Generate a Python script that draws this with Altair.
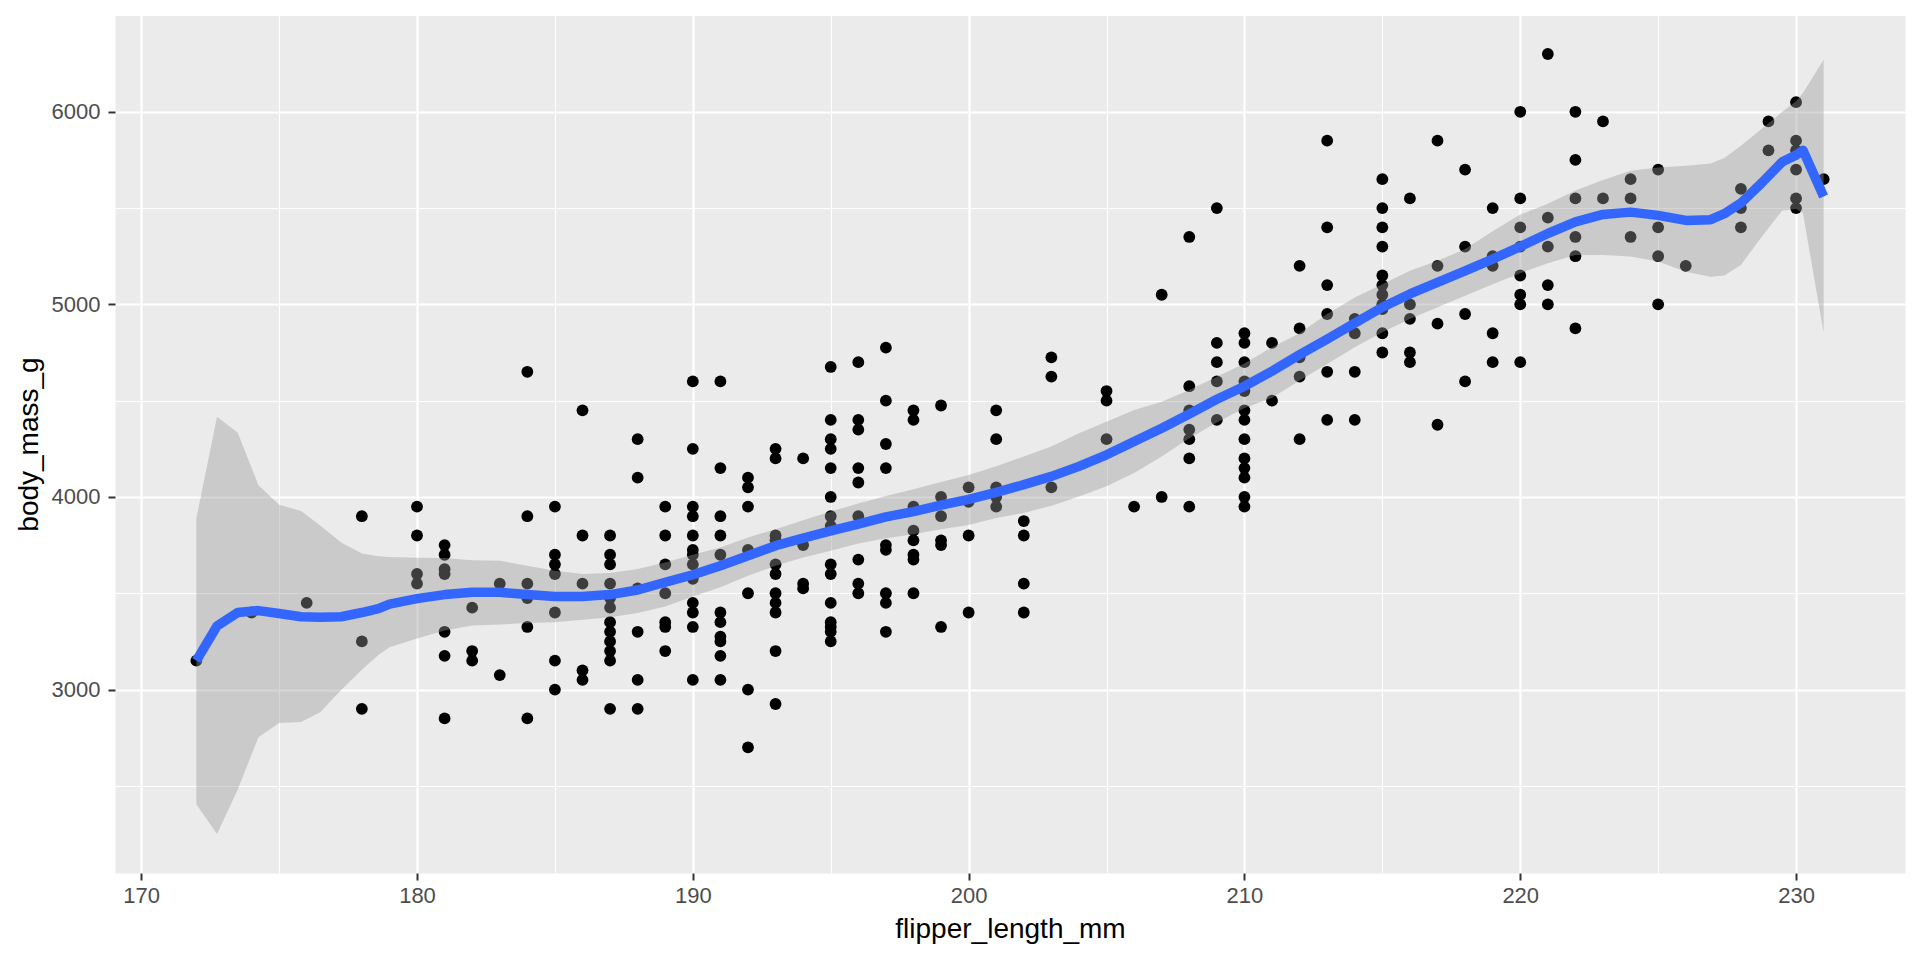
import altair as alt
import pandas as pd

# ---- scatter data: flipper length (mm) and the body masses (g) observed at it
flipper_values = [172, 174, 176, 178, 180, 181, 182, 183, 184, 185, 186, 187, 188, 189,
                  190, 191, 192, 193, 194, 195, 196, 197, 198, 199, 200, 201, 202, 203,
                  205, 206, 207, 208, 209, 210, 211, 212, 213, 214, 215, 216, 217, 218,
                  219, 220, 221, 222, 223, 224, 225, 226, 228, 229, 230, 231]
mass_groups = [
    [3150],
    [3400],
    [3450],
    [3900, 3250, 2900],
    [3950, 3800, 3600, 3550],
    [3750, 3700, 3625, 3600, 3300, 3175, 2850],
    [3425, 3200, 3150],
    [3550, 3075],
    [4650, 3900, 3550, 3475, 3325, 2850],
    [3950, 3700, 3650, 3600, 3400, 3150, 3000],
    [4450, 3800, 3550, 3100, 3050],
    [3800, 3700, 3650, 3550, 3475, 3425, 3350, 3300, 3250, 3200, 3150, 2900],
    [4300, 4100, 3525, 3300, 3050, 2900],
    [3950, 3800, 3650, 3500, 3350, 3325, 3200],
    [4600, 4250, 3950, 3900, 3800, 3725, 3700, 3650, 3575, 3450, 3400, 3325, 3050],
    [4600, 4150, 3900, 3800, 3700, 3400, 3350, 3275, 3250, 3175, 3050],
    [4100, 4050, 3950, 3725, 3500, 3000, 2700],
    [4250, 4200, 3800, 3775, 3650, 3600, 3500, 3450, 3400, 3200, 2925],
    [4200, 3750, 3550, 3525],
    [4675, 4400, 4300, 4250, 4150, 4000, 3900, 3850, 3650, 3600, 3450, 3350, 3325, 3300, 3250],
    [4700, 4400, 4350, 4150, 4075, 3900, 3675, 3550, 3500],
    [4775, 4500, 4275, 4150, 3750, 3725, 3500, 3450, 3300],
    [4450, 4400, 3950, 3825, 3775, 3700, 3675, 3500],
    [4475, 4000, 3900, 3775, 3750, 3325],
    [4050, 3975, 3800, 3400],
    [4450, 4300, 4050, 4000, 3950],
    [3875, 3800, 3550, 3400],
    [4725, 4625, 4050],
    [4550, 4500, 4300],
    [3950],
    [5050, 4000],
    [5350, 4575, 4450, 4350, 4300, 4200, 3950],
    [5500, 4800, 4700, 4600, 4400],
    [4850, 4800, 4700, 4600, 4550, 4450, 4400, 4300, 4200, 4150, 4100, 4000, 3950],
    [4800, 4500],
    [5200, 4875, 4725, 4625, 4300],
    [5850, 5400, 5100, 4950, 4650, 4400],
    [4925, 4850, 4650, 4400],
    [5650, 5500, 5400, 5300, 5150, 5100, 5050, 5000, 4975, 4850, 4750],
    [5550, 5000, 4925, 4750, 4700],
    [5850, 5200, 4900, 4375],
    [5700, 5300, 4950, 4600],
    [5500, 5250, 5200, 4850, 4700],
    [6000, 5550, 5400, 5300, 5150, 5050, 5000, 4700],
    [6300, 5450, 5300, 5100, 5000],
    [6000, 5750, 5550, 5350, 5250, 4875],
    [5950, 5550],
    [5650, 5550, 5350],
    [5700, 5400, 5250, 5000],
    [5200],
    [5600, 5500, 5400],
    [5950, 5800],
    [6050, 5850, 5800, 5700, 5550, 5500],
    [5650],
]

# ---- loess smooth: fitted value and confidence band
smooth_x = [172, 172.75, 173.5, 174.25, 175, 175.8, 176.5, 177.25, 178, 178.6, 179, 180,
            181, 182, 183, 184, 185, 186, 187, 188, 189, 190, 191, 192, 193, 194, 195,
            196, 197, 198, 199, 200, 201, 202, 203, 204, 205, 206, 207, 208, 209, 210,
            211, 212, 213, 214, 215, 216, 217, 218, 219, 220, 221, 222, 223, 224, 225,
            226, 226.9, 227.4, 228, 228.75, 229.5, 230, 230.25, 231]
smooth_fit = [3150, 3330, 3400, 3410, 3395, 3378, 3375, 3378, 3400, 3420, 3444, 3472,
              3493, 3505, 3505, 3493, 3483, 3483, 3493, 3517, 3557, 3596, 3643, 3695, 3747, 3786, 3824,
              3859, 3897, 3924, 3957, 3987, 4024, 4064, 4107, 4159, 4219, 4288, 4357, 4431, 4507, 4575,
              4653, 4739, 4820, 4902, 4985, 5054, 5114, 5174, 5235, 5300, 5368, 5428, 5467, 5479, 5462,
              5436, 5440, 5471, 5526, 5630, 5740, 5775, 5800, 5560]
smooth_lo = [2404, 2250, 2481, 2753, 2826, 2832, 2883, 2998, 3103, 3180, 3220, 3265,
             3307, 3333, 3338, 3345, 3350, 3362, 3376, 3398, 3431, 3483, 3531, 3591, 3643, 3686, 3721,
             3759, 3786, 3807, 3833, 3855, 3891, 3917, 3955, 4003, 4055, 4124, 4210, 4305, 4386, 4462,
             4515, 4605, 4691, 4777, 4855, 4924, 4985, 5045, 5105, 5162, 5213, 5256, 5256, 5248, 5222,
             5170, 5144, 5150, 5205, 5350, 5488, 5495, 5475, 4852]
smooth_hi = [3889, 4416, 4334, 4061, 3960, 3927, 3851, 3764, 3707, 3692, 3688, 3685,
             3683, 3672, 3669, 3643, 3617, 3600, 3605, 3626, 3660, 3700, 3738, 3790, 3833, 3879, 3924,
             3966, 4005, 4040, 4078, 4114, 4159, 4210, 4262, 4331, 4391, 4452, 4495, 4555, 4624, 4693,
             4777, 4850, 4950, 5036, 5105, 5174, 5226, 5287, 5380, 5466, 5522, 5591, 5646, 5694, 5711,
             5720, 5731, 5760, 5823, 5910, 6000, 6055, 6098, 6270]

# ---- axis breaks (major + minor, as in ggplot's grey theme)
x_breaks = [170, 175, 180, 185, 190, 195, 200, 205, 210, 215, 220, 225, 230]
y_breaks = [2500, 3000, 3500, 4000, 4500, 5000, 5500, 6000, 6500]
x_domain = [169.05, 233.95]
y_domain = [2047.5, 6502.5]

rows = []
for f, masses in zip(flipper_values, mass_groups):
    for m in masses:
        rows.append({"flipper_length_mm": f, "body_mass_g": m})
points_df = pd.DataFrame(rows)
smooth_df = pd.DataFrame({"flipper_length_mm": smooth_x, "fit": smooth_fit,
                          "lo": smooth_lo, "hi": smooth_hi})

FONT = "Liberation Sans"

x_scale = alt.Scale(domain=x_domain, nice=False, zero=False)
y_scale = alt.Scale(domain=y_domain, nice=False, zero=False)

x_axis = alt.Axis(
    values=x_breaks,
    labelExpr="datum.value % 10 === 0 ? datum.label : ''",
    format="d",
    grid=True,
    gridColor="white",
    gridWidth={"condition": {"test": "datum.value % 10 === 0", "value": 2.2}, "value": 1.1},
    tickOpacity={"condition": {"test": "datum.value % 10 === 0", "value": 1}, "value": 0},
    tickColor="#333333", tickWidth=2, tickSize=7,
    domain=False,
    labelFont=FONT, labelFontSize=22, labelColor="#4D4D4D", labelPadding=5,
    title="flipper_length_mm", titleFont=FONT, titleFontSize=28, titleFontWeight="normal",
    titleColor="black", titleBaseline="alphabetic", titleY=64,
)
y_axis = alt.Axis(
    values=y_breaks,
    labelExpr="datum.value % 1000 === 0 ? datum.label : ''",
    format="d",
    grid=True,
    gridColor="white",
    gridWidth={"condition": {"test": "datum.value % 1000 === 0", "value": 2.2}, "value": 1.1},
    tickOpacity={"condition": {"test": "datum.value % 1000 === 0", "value": 1}, "value": 0},
    tickColor="#333333", tickWidth=2, tickSize=7,
    domain=False,
    labelFont=FONT, labelFontSize=22, labelColor="#4D4D4D", labelPadding=8,
    title="body_mass_g", titleFont=FONT, titleFontSize=28, titleFontWeight="normal",
    titleColor="black", titleBaseline="alphabetic", titleAngle=270, titleX=-78, titleY=429,
)

points = alt.Chart(points_df).mark_circle(size=139, color="black", opacity=1).encode(
    x=alt.X("flipper_length_mm:Q", scale=x_scale, axis=x_axis),
    y=alt.Y("body_mass_g:Q", scale=y_scale, axis=y_axis),
)

band = alt.Chart(smooth_df).mark_area(color="#999999", opacity=0.4).encode(
    x=alt.X("flipper_length_mm:Q", scale=x_scale),
    y=alt.Y("lo:Q", scale=y_scale),
    y2="hi:Q",
)

line = alt.Chart(smooth_df).mark_line(color="#3366FF", strokeWidth=9.5,
                                       strokeCap="butt", strokeJoin="round").encode(
    x=alt.X("flipper_length_mm:Q", scale=x_scale),
    y=alt.Y("fit:Q", scale=y_scale),
)

chart = alt.layer(points, band, line).properties(
    width=1790,
    height=858,
    autosize=alt.AutoSizeParams(type="none"),
    padding={"left": 107, "top": 7, "right": 7, "bottom": 79},
    background="white",
).configure_view(fill="#EBEBEB", stroke="transparent")

chart.save("out.html", embed_options={"renderer": "svg", "actions": False})
